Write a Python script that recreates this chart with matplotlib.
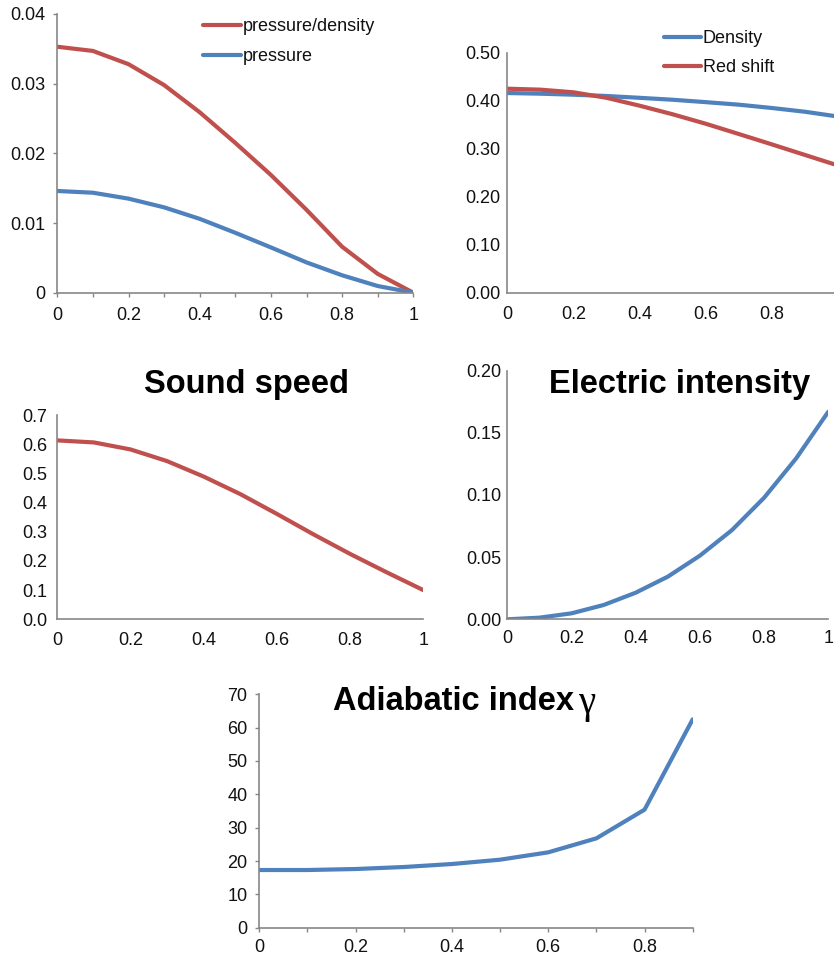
import matplotlib
matplotlib.use("Agg")
import matplotlib.pyplot as plt
from matplotlib.ticker import FixedLocator, FuncFormatter

plt.rcParams['font.family'] = ['Liberation Sans', 'DejaVu Sans']

# ---------------- data ----------------
r = [0.0, 0.1, 0.2, 0.3, 0.4, 0.5, 0.6, 0.7, 0.8, 0.9, 1.0]
pressure_density = [0.0353, 0.0347, 0.0328, 0.0298, 0.0259, 0.0215, 0.0169, 0.0119, 0.0066, 0.0027, 0.0]
pressure = [0.0146, 0.01435, 0.0135, 0.01225, 0.0106, 0.0086, 0.0065, 0.00435, 0.0025, 0.00096, 0.0]
density = [0.416, 0.4146, 0.4125, 0.4098, 0.406, 0.402, 0.397, 0.3917, 0.3848, 0.377, 0.367]
red_shift = [0.425, 0.423, 0.4175, 0.406, 0.3896, 0.3717, 0.352, 0.3306, 0.309, 0.287, 0.265]
sound_speed = [0.613, 0.606, 0.582, 0.542, 0.489, 0.429, 0.361, 0.291, 0.224, 0.161, 0.100]
electric = [0.0, 0.0013, 0.0048, 0.0115, 0.0214, 0.0343, 0.0512, 0.0718, 0.0978, 0.1295, 0.167]
r_gamma = [0.0, 0.1, 0.2, 0.3, 0.4, 0.5, 0.6, 0.7, 0.8, 0.9]
gamma = [17.3, 17.3, 17.6, 18.2, 19.1, 20.4, 22.6, 26.8, 35.4, 62.5]

xlabels = ['0', '0.2', '0.4', '0.6', '0.8', '1']

RED = '#C0504D'
BLUE = '#4F81BD'
GREY = '#878787'
TXT = '#111111'
FS = 13.0
TFS = 23.5
LW = 3.0

W, H = 834, 955
fig = plt.figure(figsize=(W / 100, H / 100), dpi=100)


def make_ax(left, right, top, bottom):
    ax = fig.add_axes([left / W, 1 - bottom / H, (right - left) / W, (bottom - top) / H])
    for s in ('top', 'right'):
        ax.spines[s].set_visible(False)
    for s in ('left', 'bottom'):
        ax.spines[s].set_color(GREY)
        ax.spines[s].set_linewidth(1.2)
    ax.set_facecolor('none')
    return ax


def style_ticks(ax, ticks_visible, xpad, ypad):
    L = 3.0 if ticks_visible else 0
    ax.tick_params(axis='both', which='both', direction='out', length=L, width=1.0,
                   color=GREY, labelsize=FS, labelcolor=TXT)
    ax.tick_params(axis='x', pad=xpad)
    ax.tick_params(axis='y', pad=ypad)


def x_ticks(ax, xmax):
    pos = [i / 10 for i in range(int(round(xmax * 10)) + 1)]
    ax.xaxis.set_major_locator(FixedLocator(pos))
    ax.set_xticklabels([(xlabels[i // 2] if i % 2 == 0 else '') for i in range(len(pos))])


# ---------- Panel 1: pressure/density & pressure ----------
ax1 = make_ax(57.3, 413.3, 14, 292.7)
l1, = ax1.plot(r, pressure_density, color=RED, lw=LW, solid_capstyle='round', label='pressure/density')
l2, = ax1.plot(r, pressure, color=BLUE, lw=LW, solid_capstyle='round', label='pressure')
ax1.set_xlim(0, 1)
ax1.set_ylim(0, 0.04)
x_ticks(ax1, 1.0)
ax1.set_yticks([0, 0.01, 0.02, 0.03, 0.04])
ax1.set_yticklabels(['0', '0.01', '0.02', '0.03', '0.04'])
style_ticks(ax1, True, 7.0, 5.5)
ax1.legend(handles=[l1, l2], loc='upper left', bbox_to_anchor=(203 / W, 1 - 18 / H),
           bbox_transform=fig.transFigure, frameon=False, fontsize=FS,
           handlelength=2.1, handletextpad=0.1, labelspacing=0.72, borderpad=0,
           borderaxespad=0)
for t in ax1.get_legend().get_texts():
    t.set_color(TXT)

# ---------- Panel 2: Density & Red shift ----------
ax2 = make_ax(507.3, 838, 52.7, 292.7)
l3, = ax2.plot(r, density, color=BLUE, lw=LW, solid_capstyle='round', label='Density')
l4, = ax2.plot(r, red_shift, color=RED, lw=LW, solid_capstyle='round', label='Red shift')
ax2.set_xlim(0, 1)
ax2.set_ylim(0, 0.5)
ax2.xaxis.set_major_locator(FixedLocator([0, 0.2, 0.4, 0.6, 0.8, 1.0]))
ax2.set_xticklabels(xlabels)
ax2.set_yticks([0, 0.1, 0.2, 0.3, 0.4, 0.5])
ax2.yaxis.set_major_formatter(FuncFormatter(lambda v, p: f'{v:.2f}'))
style_ticks(ax2, False, 9.5, 4.8)
ax2.legend(handles=[l3, l4], loc='upper left', bbox_to_anchor=(664 / W, 1 - 30 / H),
           bbox_transform=fig.transFigure, frameon=False, fontsize=FS,
           handlelength=2.05, handletextpad=0.1, labelspacing=0.68, borderpad=0,
           borderaxespad=0)
for t in ax2.get_legend().get_texts():
    t.set_color(TXT)

# ---------- Panel 3: Sound speed ----------
ax3 = make_ax(57.3, 423.3, 415, 619.3)
ax3.plot(r, sound_speed, color=RED, lw=LW, solid_capstyle='round')
ax3.set_xlim(0, 1)
ax3.set_ylim(0, 0.7)
ax3.xaxis.set_major_locator(FixedLocator([0, 0.2, 0.4, 0.6, 0.8, 1.0]))
ax3.set_xticklabels(xlabels)
ax3.set_yticks([0, 0.1, 0.2, 0.3, 0.4, 0.5, 0.6, 0.7])
ax3.yaxis.set_major_formatter(FuncFormatter(lambda v, p: f'{v:.1f}'))
style_ticks(ax3, False, 9.0, 7.0)
fig.text(247 / W, 1 - 385 / H, 'Sound speed', ha='center', va='center',
         fontsize=TFS, fontweight='bold', color='black')

# ---------- Panel 4: Electric intensity ----------
ax4 = make_ax(507.3, 828.3, 370.7, 619.3)
ax4.plot(r, electric, color=BLUE, lw=LW, solid_capstyle='round')
ax4.set_xlim(0, 1)
ax4.set_ylim(0, 0.2)
ax4.xaxis.set_major_locator(FixedLocator([0, 0.2, 0.4, 0.6, 0.8, 1.0]))
ax4.set_xticklabels(xlabels)
ax4.set_yticks([0, 0.05, 0.10, 0.15, 0.20])
ax4.yaxis.set_major_formatter(FuncFormatter(lambda v, p: f'{v:.2f}'))
style_ticks(ax4, False, 7.5, 4.0)
fig.text(680 / W, 1 - 385 / H, 'Electric intensity', ha='center', va='center',
         fontsize=TFS, fontweight='bold', color='black')

# ---------- Panel 5: Adiabatic index ----------
ax5 = make_ax(259.3, 692.7, 694.3, 927.7)
ax5.plot(r_gamma, gamma, color=BLUE, lw=LW, solid_capstyle='round')
ax5.set_xlim(0, 0.9)
ax5.set_ylim(0, 70)
x_ticks(ax5, 0.9)
ax5.set_yticks(list(range(0, 71, 10)))
style_ticks(ax5, True, 5.0, 5.5)
fig.text(574 / W, 1 - 701 / H, 'Adiabatic index', ha='right', va='center',
         fontsize=TFS, fontweight='bold', color='black')
fig.text(578 / W, 1 - 704 / H, 'γ', ha='left', va='center',
         fontsize=28, family=['Liberation Serif', 'DejaVu Serif'], color='black')

fig.savefig('out.png', dpi=100)
